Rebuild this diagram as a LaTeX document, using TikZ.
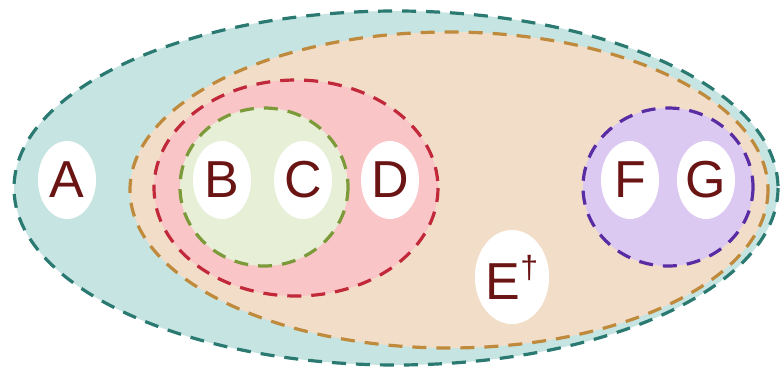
\documentclass[tikz,border=0pt]{standalone}
\usepackage{fontspec}
\setmainfont{Liberation Sans}
\usetikzlibrary{shapes.geometric}
\definecolor{tealfill}{HTML}{C6E4E1}
\definecolor{tealline}{HTML}{2B7A72}
\definecolor{tanfill}{HTML}{F2DDC9}
\definecolor{tanline}{HTML}{C08A3C}
\definecolor{pinkfill}{HTML}{F9C5C6}
\definecolor{redline}{HTML}{C1283A}
\definecolor{greenfill}{HTML}{E7EFD6}
\definecolor{greenline}{HTML}{7C9A3A}
\definecolor{purplefill}{HTML}{DBC9F1}
\definecolor{purpleline}{HTML}{5A2CA3}
\definecolor{lettercol}{HTML}{6A1414}
\begin{document}
\begin{tikzpicture}[x=1pt,y=-1pt,
  setline/.style={line width=3.2pt,dash pattern=on 14pt off 10pt},
  item/.style={ellipse,fill=white,minimum width=58pt,minimum height=78pt,inner sep=0pt,
     text=lettercol,font=\fontsize{52}{56}\selectfont}]
\useasboundingbox (0,0) rectangle (780,372);
\fill[white] (0,0) rectangle (780,372);
\draw[setline,draw=tealline,fill=tealfill] (396,188) ellipse [x radius=382,y radius=177];
\draw[setline,draw=tanline,fill=tanfill] (449,190) ellipse [x radius=319,y radius=158];
\draw[setline,draw=redline,fill=pinkfill] (296,188) ellipse [x radius=142,y radius=108];
\draw[setline,draw=greenline,fill=greenfill] (264,187) ellipse [x radius=84,y radius=79];
\draw[setline,draw=purpleline,fill=purplefill] (668,187) ellipse [x radius=85,y radius=79];
\node[item] (A) at (67,180) {A};
\node[item] (B) at (222,180) {B};
\node[item] (C) at (303,180) {C};
\node[item] (D) at (390,180) {D};
\node[item] (F) at (630,180) {F};
\node[item] (G) at (706,180) {G};
\node[item,minimum width=68pt,minimum height=94pt] (E) at (512,277) {E\raisebox{21pt}{\fontsize{32}{34}\selectfont †}};
\end{tikzpicture}
\end{document}
